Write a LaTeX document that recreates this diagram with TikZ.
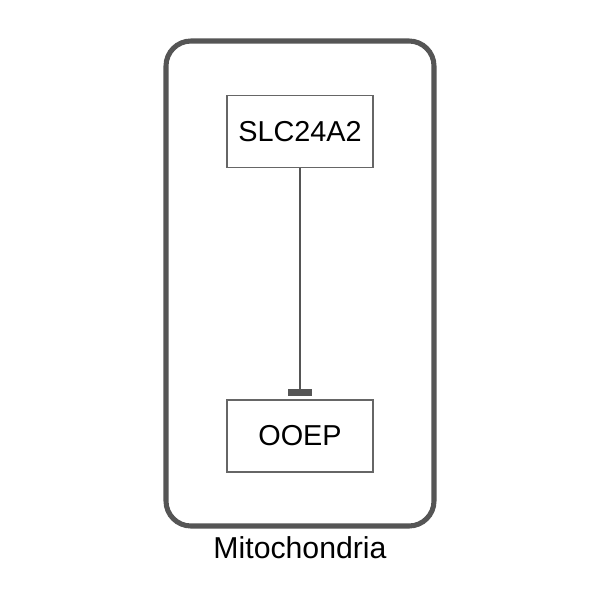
\documentclass[tikz,border=0pt]{standalone}
\usepackage{fontspec}
\setmainfont{Liberation Sans}
\usetikzlibrary{arrows.meta}
\definecolor{edgegray}{HTML}{555555}
\definecolor{boxgray}{HTML}{666666}

\begin{document}
\begin{tikzpicture}[
            x=0.025cm, y=-0.025cm,
            gene/.style={
                draw=boxgray,
                rectangle,
                minimum width=146*0.025cm,
                minimum height=72*0.025cm,
                line width=1.1pt,
                font=\fontsize{20.5}{24}\selectfont
            },
            compartment/.style={
                draw=edgegray,
                line width=3.6pt,
                rounded corners=25*0.025cm
            },
            inhibit/.style={draw=edgegray, line width=1.1pt, -{Bar[width=17pt, line width=5.5pt]}, shorten >=2pt},
            label/.style={font=\fontsize{21.5}{25}\selectfont}
        ]

        \useasboundingbox (0,0) rectangle (600,600);

        \draw[compartment] (166,41) rectangle (434,526);
        \node[label]  (mito)  at (300,548)   {Mitochondria};

        \node[gene] (slc) at (300,131.5) {SLC24A2};
        \node[gene] (ooep) at (300,436)   {OOEP};

        \draw[inhibit] (slc) -- (ooep);
        \end{tikzpicture}
\end{document}
